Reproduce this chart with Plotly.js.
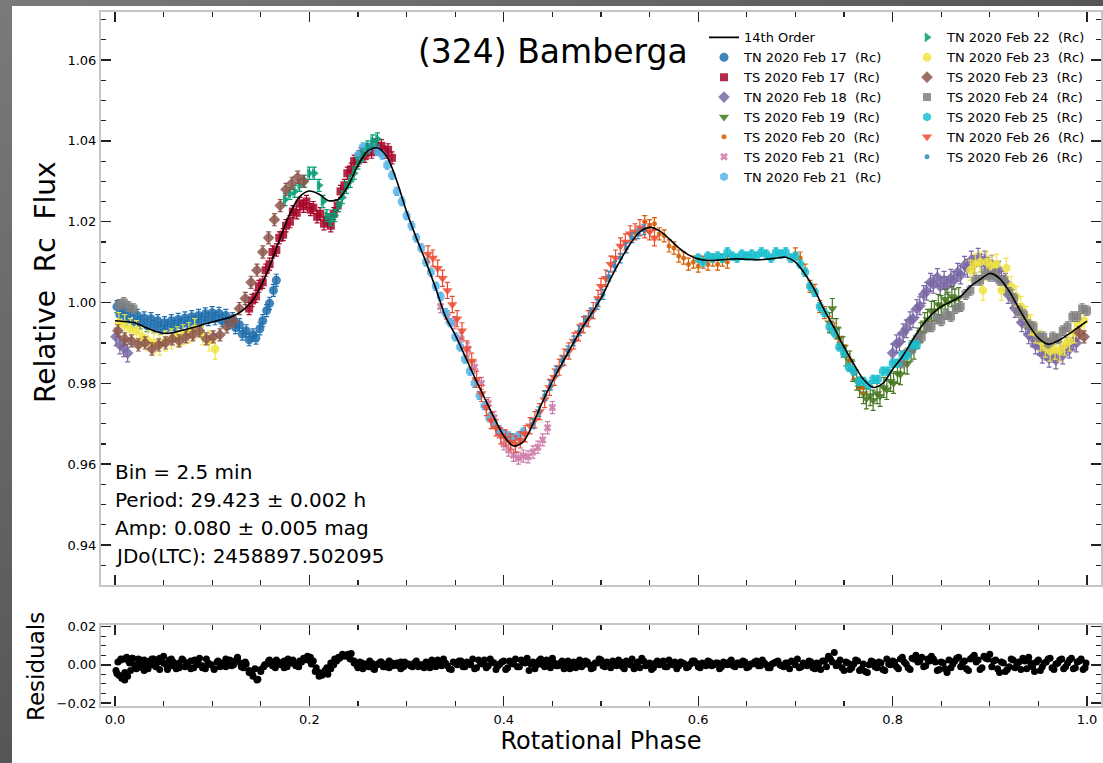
<!DOCTYPE html>
<html>
<head>
<meta charset="utf-8">
<script src="https://cdn.plot.ly/plotly-3.0.1.min.js"></script>
<style>
html,body{margin:0;padding:0;}
body{width:1103px;height:763px;overflow:hidden;position:relative;
 background:linear-gradient(to bottom right,#7a7a7a 0%,#565656 50%,#303030 100%);}
#plot{position:absolute;left:12px;top:6px;width:1091px;height:757px;background:#fff;}
</style>
</head>
<body>
<div id="plot"></div>
<script>
// ---------- fit curve (14th order Fourier) ----------
const fitPhase = [0.00,0.01,0.02,0.03,0.04,0.05,0.06,0.07,0.08,0.09,0.10,0.11,0.12,0.13,0.14,0.15,0.16,0.17,0.18,0.19,0.20,0.21,0.22,0.23,0.24,0.25,0.26,0.27,0.28,0.29,0.30,0.31,0.32,0.33,0.34,0.35,0.36,0.37,0.38,0.39,0.40,0.41,0.42,0.43,0.44,0.45,0.46,0.47,0.48,0.49,0.50,0.51,0.52,0.53,0.54,0.55,0.56,0.57,0.58,0.59,0.60,0.61,0.62,0.63,0.64,0.65,0.66,0.67,0.68,0.69,0.70,0.71,0.72,0.73,0.74,0.75,0.76,0.77,0.78,0.79,0.80,0.81,0.82,0.83,0.84,0.85,0.86,0.87,0.88,0.89,0.90,0.91,0.92,0.93,0.94,0.95,0.96,0.97,0.98,0.99,1.00];
const fitFlux = [0.9955,0.9953,0.9950,0.9940,0.9930,0.9924,0.9926,0.9932,0.9938,0.9945,0.9952,0.9958,0.9965,0.9978,1.0000,1.0040,1.0095,1.0160,1.0220,1.0262,1.0276,1.0268,1.0252,1.0256,1.0290,1.0340,1.0375,1.0383,1.0360,1.0300,1.0225,1.0160,1.0100,1.0035,0.9965,0.9920,0.9868,0.9815,0.9765,0.9715,0.9670,0.9645,0.9655,0.9700,0.9755,0.9805,0.9850,0.9893,0.9935,0.9972,1.0010,1.0060,1.0105,1.0145,1.0175,1.0186,1.0178,1.0158,1.0135,1.0118,1.0108,1.0104,1.0105,1.0107,1.0108,1.0107,1.0106,1.0107,1.0110,1.0112,1.0100,1.0070,1.0030,0.9980,0.9937,0.9890,0.9848,0.9810,0.9790,0.9800,0.9835,0.9866,0.9905,0.9942,0.9970,0.9990,1.0002,1.0015,1.0040,1.0057,1.0072,1.0060,1.0028,0.9985,0.9945,0.9912,0.9897,0.9905,0.9920,0.9937,0.9954];

// ---------- observation nights ----------
const tnFeb17Phase = [0.002,0.005,0.009,0.012,0.016,0.019,0.023,0.026,0.030,0.033,0.037,0.040,0.044,0.047,0.051,0.054,0.058,0.061,0.065,0.068,0.072,0.075,0.079,0.082,0.086,0.089,0.093,0.096,0.100,0.103,0.107,0.110,0.114,0.117,0.121,0.124,0.128,0.131,0.135,0.138,0.142,0.145,0.149,0.152,0.156,0.159,0.163,0.166];
const tnFeb17Flux  = [0.9990,0.9970,0.9982,0.9958,0.9975,0.9952,0.9968,0.9950,0.9962,0.9943,0.9960,0.9940,0.9955,0.9936,0.9950,0.9938,0.9955,0.9940,0.9958,0.9945,0.9962,0.9948,0.9965,0.9952,0.9968,0.9955,0.9972,0.9958,0.9975,0.9960,0.9973,0.9955,0.9968,0.9950,0.9960,0.9938,0.9945,0.9922,0.9930,0.9908,0.9920,0.9912,0.9935,0.9955,0.9980,0.9998,1.0030,1.0055];

const tsFeb17Phase = [0.138,0.141,0.145,0.148,0.152,0.155,0.159,0.162,0.166,0.169,0.173,0.176,0.180,0.183,0.187,0.190,0.194,0.197,0.201,0.204,0.208,0.211,0.215,0.218,0.222,0.225,0.229,0.232,0.236,0.239,0.243,0.246,0.250,0.253,0.257,0.260,0.264,0.267,0.271,0.274,0.278,0.281,0.285];
const tsFeb17Flux  = [0.9985,1.0005,1.0015,1.0040,1.0050,1.0080,1.0095,1.0125,1.0130,1.0160,1.0168,1.0190,1.0200,1.0225,1.0222,1.0245,1.0238,1.0250,1.0230,1.0235,1.0212,1.0220,1.0195,1.0205,1.0190,1.0220,1.0240,1.0275,1.0290,1.0320,1.0330,1.0350,1.0352,1.0368,1.0362,1.0378,1.0372,1.0390,1.0380,1.0388,1.0372,1.0378,1.0358];

const tnFeb18Phase = [0.800,0.804,0.807,0.811,0.814,0.818,0.821,0.825,0.828,0.832,0.835,0.839,0.842,0.846,0.849,0.853,0.856,0.860,0.863,0.867,0.870,0.874,0.877,0.881,0.884,0.888,0.891,0.895,0.898,0.902,0.905,0.909,0.912,0.916,0.919,0.923,0.926,0.930,0.933,0.937,0.940,0.944,0.947,0.951,0.954,0.958,0.961,0.965,0.968,0.972,0.975,0.979,0.982,0.986,0.989,0.001,0.005,0.009,0.013];
const tnFeb18Flux  = [0.9875,0.9898,0.9902,0.9925,0.9935,0.9955,0.9960,0.9985,0.9992,1.0020,1.0028,1.0050,1.0045,1.0062,1.0040,1.0055,1.0042,1.0060,1.0055,1.0075,1.0068,1.0092,1.0085,1.0105,1.0095,1.0112,1.0098,1.0105,1.0090,1.0095,1.0075,1.0080,1.0055,1.0050,1.0020,1.0010,0.9985,0.9975,0.9950,0.9945,0.9920,0.9912,0.9895,0.9892,0.9872,0.9880,0.9862,0.9875,0.9858,0.9878,0.9870,0.9892,0.9885,0.9905,0.9900,0.9915,0.9895,0.9888,0.9875];

const tsFeb19Phase = [0.735,0.738,0.742,0.745,0.749,0.752,0.756,0.759,0.763,0.766,0.770,0.773,0.777,0.780,0.784,0.787,0.791,0.794,0.798,0.801,0.805,0.808,0.812,0.815,0.819,0.822,0.826,0.829,0.833,0.836,0.840,0.843,0.847,0.850,0.854,0.857,0.861,0.864,0.868];
const tsFeb19Flux  = [0.9950,0.9985,0.9935,0.9912,0.9890,0.9868,0.9855,0.9830,0.9808,0.9790,0.9775,0.9762,0.9770,0.9758,0.9775,0.9768,0.9790,0.9785,0.9805,0.9800,0.9825,0.9822,0.9850,0.9848,0.9880,0.9885,0.9912,0.9925,0.9950,0.9958,0.9978,0.9980,0.9995,0.9992,1.0008,1.0000,1.0015,1.0008,1.0012];

const tsFeb20Phase = [0.545,0.550,0.555,0.560,0.565,0.570,0.575,0.580,0.585,0.590,0.595,0.600,0.605,0.610,0.615,0.620,0.625,0.630,0.700,0.705,0.710,0.715,0.720,0.725,0.730,0.735,0.740,0.745,0.750,0.755,0.760,0.765,0.770];
const tsFeb20Flux  = [1.0200,1.0190,1.0195,1.0170,1.0165,1.0140,1.0135,1.0115,1.0110,1.0095,1.0100,1.0090,1.0100,1.0095,1.0105,1.0095,1.0105,1.0100,1.0120,1.0110,1.0080,1.0040,1.0030,0.9990,0.9975,0.9950,0.9935,0.9900,0.9880,0.9850,0.9825,0.9800,0.9790];

const tsFeb21Phase = [0.335,0.342,0.349,0.356,0.363,0.370,0.377,0.384,0.390,0.395,0.400,0.405,0.410,0.415,0.420,0.425,0.430,0.435,0.440,0.445,0.450];
const tsFeb21Flux  = [0.9990,0.9965,0.9950,0.9910,0.9885,0.9840,0.9800,0.9750,0.9715,0.9680,0.9650,0.9635,0.9622,0.9615,0.9620,0.9618,0.9630,0.9642,0.9660,0.9690,0.9740];

const tnFeb21Phase = [0.250,0.255,0.260,0.265,0.270,0.275,0.280,0.285,0.290,0.295,0.300,0.305,0.310,0.315,0.320,0.325,0.330,0.335,0.340,0.345,0.350,0.355,0.360,0.365,0.370,0.375,0.380,0.385,0.390,0.395,0.400,0.405,0.410,0.415,0.420];
const tnFeb21Flux  = [1.0365,1.0385,1.0380,1.0390,1.0375,1.0365,1.0340,1.0315,1.0275,1.0250,1.0215,1.0190,1.0160,1.0135,1.0100,1.0075,1.0040,1.0015,0.9975,0.9950,0.9915,0.9890,0.9860,0.9830,0.9800,0.9770,0.9745,0.9715,0.9700,0.9685,0.9675,0.9670,0.9665,0.9670,0.9680];

const tnFeb22Phase = [0.175,0.180,0.185,0.190,0.195,0.200,0.205,0.210,0.214,0.218,0.222,0.226,0.230,0.234,0.238,0.242,0.246,0.250,0.255,0.260,0.265,0.270];
const tnFeb22Flux  = [1.0255,1.0270,1.0275,1.0290,1.0300,1.0320,1.0320,1.0290,1.0250,1.0215,1.0205,1.0215,1.0240,1.0260,1.0285,1.0300,1.0320,1.0345,1.0365,1.0385,1.0400,1.0405];

const tnFeb23Phase = [0.880,0.885,0.890,0.893,0.897,0.902,0.907,0.912,0.917,0.922,0.927,0.932,0.937,0.942,0.947,0.952,0.957,0.962,0.967,0.972,0.977,0.982,0.987,0.992,0.997,0.004,0.010,0.016,0.022,0.028,0.034,0.040,0.046,0.052,0.058,0.064,0.070,0.076,0.082,0.090,0.097,0.103];
const tnFeb23Flux  = [1.0080,1.0095,1.0100,1.0030,1.0100,1.0090,1.0095,1.0030,1.0085,1.0040,1.0015,0.9990,0.9965,0.9945,0.9925,0.9905,0.9890,0.9880,0.9885,0.9880,0.9895,0.9905,0.9925,0.9945,0.9955,0.9950,0.9945,0.9935,0.9930,0.9915,0.9905,0.9900,0.9895,0.9905,0.9910,0.9915,0.9920,0.9925,0.9935,0.9920,0.9905,0.9885];

const tsFeb23Phase = [0.992,0.997,0.003,0.010,0.017,0.024,0.031,0.038,0.045,0.052,0.059,0.066,0.073,0.080,0.087,0.094,0.101,0.108,0.115,0.122,0.128,0.134,0.140,0.146,0.152,0.158,0.164,0.170,0.176,0.182,0.188,0.194];
const tsFeb23Flux  = [0.9925,0.9915,0.9930,0.9910,0.9905,0.9895,0.9900,0.9885,0.9895,0.9900,0.9910,0.9905,0.9915,0.9920,0.9930,0.9910,0.9915,0.9920,0.9940,0.9955,0.9985,1.0010,1.0050,1.0080,1.0125,1.0160,1.0205,1.0240,1.0280,1.0295,1.0310,1.0300];

const tsFeb24Phase = [0.810,0.815,0.820,0.825,0.830,0.835,0.840,0.845,0.850,0.855,0.860,0.865,0.870,0.875,0.880,0.885,0.890,0.895,0.900,0.905,0.910,0.915,0.920,0.925,0.930,0.935,0.940,0.945,0.950,0.955,0.960,0.965,0.970,0.975,0.980,0.985,0.990,0.995,1.000,0.004,0.009,0.014,0.019];
const tsFeb24Flux  = [0.9850,0.9875,0.9885,0.9910,0.9915,0.9940,0.9940,0.9960,0.9955,0.9970,0.9965,0.9985,0.9990,1.0020,1.0030,1.0055,1.0055,1.0070,1.0065,1.0070,1.0055,1.0055,1.0025,1.0010,0.9980,0.9970,0.9945,0.9940,0.9915,0.9915,0.9900,0.9915,0.9910,0.9930,0.9940,0.9965,0.9965,0.9985,0.9980,0.9995,1.0000,0.9990,0.9985];

const tsFeb25Phase = [0.600,0.605,0.610,0.615,0.620,0.625,0.630,0.635,0.640,0.645,0.650,0.655,0.660,0.665,0.670,0.675,0.680,0.685,0.690,0.695,0.700,0.705,0.710,0.715,0.720,0.725,0.730,0.735,0.740,0.745,0.750,0.755,0.760,0.765,0.770,0.775,0.780,0.785,0.790,0.795,0.800,0.805,0.810,0.815,0.820,0.825];
const tsFeb25Flux  = [1.0110,1.0100,1.0115,1.0110,1.0115,1.0110,1.0125,1.0115,1.0110,1.0120,1.0115,1.0120,1.0115,1.0125,1.0120,1.0110,1.0125,1.0120,1.0125,1.0110,1.0115,1.0095,1.0075,1.0040,1.0025,0.9990,0.9975,0.9940,0.9925,0.9890,0.9875,0.9840,0.9830,0.9805,0.9805,0.9795,0.9810,0.9810,0.9830,0.9830,0.9850,0.9850,0.9870,0.9870,0.9895,0.9895];

const tnFeb26Phase = [0.322,0.327,0.332,0.337,0.342,0.347,0.352,0.357,0.362,0.367,0.372,0.377,0.382,0.387,0.392,0.397,0.402,0.407,0.412,0.417,0.422,0.427,0.432,0.437,0.442,0.447,0.452,0.457,0.462,0.467,0.472,0.477,0.482,0.487,0.492,0.497,0.500,0.505,0.510,0.515,0.520,0.525,0.530,0.535,0.540,0.545,0.550,0.555];
const tnFeb26Flux  = [1.0120,1.0110,1.0085,1.0060,1.0030,0.9995,0.9960,0.9930,0.9885,0.9855,0.9810,0.9775,0.9740,0.9708,0.9690,0.9670,0.9665,0.9655,0.9650,0.9660,0.9675,0.9695,0.9710,0.9730,0.9760,0.9790,0.9815,0.9840,0.9865,0.9880,0.9905,0.9925,0.9945,0.9960,0.9980,1.0010,1.0040,1.0060,1.0095,1.0110,1.0140,1.0150,1.0170,1.0175,1.0185,1.0180,1.0175,1.0160];

const tsFeb26Phase = [0.430,0.436,0.442,0.448,0.454,0.460,0.466,0.472,0.478,0.484,0.490,0.496,0.502,0.508,0.514,0.520,0.526,0.532,0.538,0.544];
const tsFeb26Flux  = [0.9700,0.9730,0.9770,0.9795,0.9830,0.9855,0.9880,0.9905,0.9930,0.9955,0.9975,0.9995,1.0020,1.0065,1.0090,1.0110,1.0135,1.0160,1.0170,1.0180];

// per-night typical 1-sigma error
const nightErr = [0.0015,0.0015,0.0022,0.0025,0.0015,0.0015,0.0010,0.0015,0.0025,0.0015,0.0012,0.0010,0.0020,0.0012];

// ---------- residuals ----------
const resPhase = [0.001,0.003,0.004,0.006,0.007,0.009,0.010,0.012,0.013,0.015,0.016,0.018,0.020,0.022,0.024,0.026,0.028,0.030,0.032,0.034,0.036,0.038,0.040,0.042,0.044,0.046,0.048,0.050,0.052,0.054,0.056,0.058,0.060,0.063,0.066,0.069,0.072,0.075,0.078,0.081,0.084,0.087,0.090,0.093,0.096,0.099,0.102,0.105,0.108,0.111,0.114,0.117,0.120,0.123,0.126,0.129,0.132,0.135,0.138,0.141,0.144,0.147,0.150,0.153,0.156,0.159,0.162,0.165,0.168,0.171,0.174,0.177,0.180,0.183,0.186,0.189,0.192,0.195,0.198,0.201,0.204,0.207,0.210,0.213,0.216,0.219,0.222,0.225,0.228,0.231,0.234,0.237,0.240,0.243,0.246,0.249,0.252,0.255,0.258,0.261,0.264,0.267,0.270,0.273,0.276,0.279,0.282,0.285,0.288,0.291,0.294,0.297,0.300,0.304,0.308,0.312,0.316,0.320,0.324,0.328,0.332,0.336,0.340,0.344,0.348,0.352,0.356,0.360,0.364,0.368,0.372,0.376,0.380,0.384,0.388,0.392,0.396,0.400,0.404,0.408,0.412,0.416,0.420,0.424,0.428,0.432,0.436,0.440,0.444,0.448,0.452,0.456,0.460,0.464,0.468,0.472,0.476,0.480,0.484,0.488,0.492,0.496,0.500,0.504,0.508,0.512,0.516,0.520,0.524,0.528,0.532,0.536,0.540,0.544,0.548,0.552,0.556,0.560,0.564,0.568,0.572,0.576,0.580,0.584,0.588,0.592,0.596,0.600,0.604,0.608,0.612,0.616,0.620,0.624,0.628,0.632,0.636,0.640,0.644,0.648,0.652,0.656,0.660,0.664,0.668,0.672,0.676,0.680,0.684,0.688,0.692,0.696,0.700,0.704,0.708,0.712,0.716,0.720,0.724,0.728,0.732,0.736,0.740,0.744,0.748,0.752,0.756,0.760,0.764,0.768,0.772,0.776,0.780,0.784,0.788,0.792,0.796,0.800,0.804,0.808,0.812,0.816,0.820,0.824,0.828,0.832,0.836,0.840,0.844,0.848,0.852,0.856,0.860,0.864,0.868,0.872,0.876,0.880,0.884,0.888,0.892,0.896,0.900,0.904,0.908,0.912,0.916,0.920,0.924,0.928,0.932,0.936,0.940,0.944,0.948,0.952,0.956,0.960,0.964,0.968,0.972,0.976,0.980,0.984,0.988,0.992,0.996,0.999];
const resValue = [-0.0030,0.0015,-0.0055,0.0025,-0.0070,0.0030,-0.0040,0.0040,-0.0060,0.0010,-0.0030,0.0035,0.0000,-0.0020,0.0030,0.0010,-0.0015,0.0025,0.0005,-0.0020,0.0020,0.0000,0.0030,-0.0010,0.0015,-0.0025,0.0020,0.0045,0.0005,-0.0015,0.0025,-0.0005,0.0015,-0.0020,0.0010,0.0030,-0.0010,0.0005,0.0020,-0.0015,0.0000,0.0035,-0.0005,-0.0020,0.0010,0.0000,-0.0025,0.0015,-0.0010,0.0005,0.0030,0.0015,-0.0005,0.0020,0.0040,0.0010,-0.0015,0.0005,-0.0030,-0.0045,-0.0020,-0.0075,-0.0035,-0.0010,0.0005,0.0025,0.0010,-0.0015,0.0015,0.0000,0.0020,-0.0010,0.0010,0.0025,0.0005,-0.0010,0.0015,0.0030,0.0045,0.0040,0.0020,-0.0015,-0.0040,-0.0055,-0.0030,-0.0050,-0.0020,0.0000,0.0020,0.0035,0.0045,0.0050,0.0055,0.0060,0.0010,-0.0005,0.0015,-0.0020,0.0005,-0.0010,0.0010,-0.0025,0.0000,0.0015,-0.0010,0.0005,-0.0015,0.0010,0.0000,-0.0005,0.0015,-0.0010,0.0005,-0.0005,0.0010,-0.0010,0.0000,0.0015,-0.0015,0.0005,0.0025,-0.0005,0.0010,-0.0020,0.0015,0.0000,0.0020,-0.0010,0.0005,0.0030,-0.0015,0.0010,0.0025,-0.0005,0.0015,-0.0025,0.0005,0.0020,-0.0015,0.0010,0.0030,-0.0010,0.0015,0.0035,0.0005,-0.0020,0.0020,0.0000,0.0025,-0.0015,0.0010,-0.0005,0.0020,0.0000,-0.0020,0.0015,0.0005,-0.0010,0.0020,0.0000,-0.0015,0.0010,0.0025,-0.0010,0.0005,0.0020,-0.0005,0.0015,-0.0020,0.0010,0.0030,0.0000,-0.0015,0.0020,0.0005,-0.0025,0.0010,0.0000,0.0020,-0.0010,0.0005,0.0015,-0.0005,0.0010,-0.0015,0.0005,0.0020,-0.0010,0.0010,-0.0005,0.0015,0.0000,0.0010,-0.0010,0.0005,0.0015,-0.0005,0.0010,0.0000,0.0015,-0.0010,0.0005,0.0020,-0.0005,0.0010,-0.0015,0.0005,0.0015,0.0000,-0.0010,0.0010,0.0020,0.0000,-0.0015,0.0010,-0.0005,0.0015,-0.0020,0.0005,0.0020,-0.0010,0.0030,0.0065,0.0010,-0.0015,0.0015,-0.0025,0.0005,0.0020,-0.0020,-0.0035,0.0000,0.0015,-0.0015,0.0010,-0.0030,0.0005,0.0020,-0.0010,0.0030,0.0015,-0.0015,0.0035,0.0050,0.0020,-0.0010,0.0030,0.0045,0.0015,-0.0025,0.0010,-0.0040,-0.0015,0.0020,0.0040,0.0010,-0.0020,0.0030,0.0050,0.0025,-0.0015,0.0035,0.0055,0.0020,-0.0020,0.0015,-0.0035,-0.0010,0.0025,0.0005,-0.0025,0.0020,0.0040,-0.0010,0.0015,-0.0030,0.0010,0.0030,-0.0015,0.0005,0.0025,-0.0020,0.0010,0.0035,-0.0015,0.0020,-0.0025,0.0010];
const resPhaseB = [0.002,0.006,0.010,0.014,0.018,0.022,0.026,0.030,0.034,0.038,0.042,0.046,0.050,0.054,0.058,0.062,0.066,0.070,0.074,0.078,0.082,0.086,0.090,0.094,0.098,0.102,0.106,0.110,0.114,0.118,0.122,0.126,0.130,0.134,0.138,0.142,0.146,0.150,0.154,0.158,0.162,0.166,0.170,0.174,0.178,0.182,0.186,0.190,0.194,0.198,0.202,0.206,0.210,0.214,0.218,0.222,0.226,0.230,0.234,0.238,0.242,0.246,0.250,0.254,0.258,0.262,0.266,0.270,0.274,0.278,0.282,0.286,0.290,0.294,0.298,0.302,0.306,0.310,0.314,0.318,0.322,0.326,0.330,0.334,0.338,0.342,0.346,0.350,0.354,0.358,0.362,0.366,0.370,0.374,0.378,0.382,0.386,0.390,0.394,0.398,0.402,0.406,0.410,0.414,0.418,0.422,0.426,0.430,0.434,0.438,0.442,0.446,0.450,0.454,0.458,0.462,0.466,0.470,0.474,0.478,0.482,0.486,0.490,0.494,0.498,0.502,0.506,0.510,0.514,0.518,0.522,0.526,0.530,0.534,0.538,0.542,0.546,0.550,0.554,0.558,0.562,0.566,0.570,0.574,0.578,0.582,0.586,0.590,0.594,0.598,0.602,0.606,0.610,0.614,0.618,0.622,0.626,0.630,0.634,0.638,0.642,0.646,0.650,0.654,0.658,0.662,0.666,0.670,0.674,0.678,0.682,0.686,0.690,0.694,0.698,0.702,0.706,0.710,0.714,0.718,0.722,0.726,0.730,0.734,0.738,0.742,0.746,0.750,0.754,0.758,0.762,0.766,0.770,0.774,0.778,0.782,0.786,0.790,0.794,0.798,0.802,0.806,0.810,0.814,0.818,0.822,0.826,0.830,0.834,0.838,0.842,0.846,0.850,0.854,0.858,0.862,0.866,0.870,0.874,0.878,0.882,0.886,0.890,0.894,0.898,0.902,0.906,0.910,0.914,0.918,0.922,0.926,0.930,0.934,0.938,0.942,0.946,0.950,0.954,0.958,0.962,0.966,0.970,0.974,0.978,0.982,0.986,0.990,0.994,0.998];
const resValueB = [-0.0045,0.0030,-0.0080,0.0020,0.0035,-0.0010,0.0025,-0.0030,0.0015,0.0030,-0.0005,0.0035,0.0010,-0.0025,0.0030,0.0000,-0.0015,0.0025,0.0010,-0.0020,0.0025,0.0005,-0.0015,0.0030,0.0000,-0.0020,0.0020,0.0010,-0.0010,0.0025,0.0000,0.0035,-0.0010,0.0015,-0.0040,-0.0060,-0.0080,-0.0025,0.0000,0.0020,-0.0005,0.0025,0.0005,-0.0015,0.0030,0.0010,-0.0005,0.0020,0.0035,0.0025,0.0005,-0.0035,-0.0060,-0.0045,-0.0015,0.0010,0.0030,0.0040,0.0055,0.0045,0.0030,0.0020,-0.0015,0.0010,-0.0005,0.0020,-0.0020,0.0005,0.0015,-0.0010,0.0020,-0.0005,0.0010,-0.0020,0.0015,0.0005,-0.0010,0.0020,0.0000,-0.0015,0.0010,0.0025,-0.0010,0.0005,0.0030,-0.0005,-0.0025,0.0010,0.0020,-0.0010,0.0015,0.0000,-0.0020,0.0025,0.0005,-0.0015,0.0030,0.0010,-0.0005,0.0015,-0.0025,0.0020,0.0005,-0.0010,0.0025,0.0010,-0.0030,0.0015,0.0000,0.0030,-0.0010,0.0015,0.0035,-0.0005,0.0010,-0.0020,0.0020,0.0005,-0.0015,0.0025,0.0000,0.0015,-0.0020,0.0010,0.0030,-0.0005,0.0015,-0.0015,0.0005,0.0025,-0.0010,0.0020,0.0000,-0.0020,0.0015,0.0035,-0.0005,0.0010,-0.0015,0.0020,0.0005,-0.0010,0.0025,0.0000,-0.0020,0.0015,0.0005,-0.0010,0.0020,0.0010,-0.0015,0.0005,0.0020,-0.0005,0.0010,-0.0020,0.0015,0.0000,0.0025,-0.0010,0.0010,0.0020,-0.0015,0.0005,0.0015,-0.0005,0.0025,0.0000,-0.0015,0.0010,0.0020,-0.0005,0.0010,-0.0020,0.0015,0.0030,-0.0010,0.0005,0.0020,-0.0015,0.0010,-0.0025,0.0020,0.0045,0.0015,-0.0005,0.0025,-0.0030,0.0010,-0.0015,0.0025,-0.0030,0.0005,-0.0040,0.0020,-0.0010,0.0015,-0.0025,0.0030,0.0000,0.0015,-0.0020,0.0040,0.0005,-0.0025,0.0030,0.0015,0.0040,-0.0005,0.0020,0.0030,-0.0030,0.0015,-0.0020,0.0025,0.0005,0.0035,-0.0010,0.0020,-0.0030,0.0040,0.0015,-0.0025,0.0045,0.0030,-0.0010,0.0025,-0.0040,0.0010,-0.0025,0.0030,-0.0015,0.0015,0.0035,-0.0020,0.0010,-0.0035,0.0025,-0.0010,0.0015,0.0035,-0.0025,0.0010,0.0030,-0.0010,0.0025,-0.0020,0.0015,0.0030,-0.0015];

// ---------- legend / style tables ----------
const nightNames = ['TN 2020 Feb 17','TS 2020 Feb 17','TN 2020 Feb 18','TS 2020 Feb 19','TS 2020 Feb 20','TS 2020 Feb 21','TN 2020 Feb 21','TN 2020 Feb 22','TN 2020 Feb 23','TS 2020 Feb 23','TS 2020 Feb 24','TS 2020 Feb 25','TN 2020 Feb 26','TS 2020 Feb 26'];
const filterLabel = '(Rc)';
const fitLabel = '14th Order';
const nightPhases = [tnFeb17Phase,tsFeb17Phase,tnFeb18Phase,tsFeb19Phase,tsFeb20Phase,tsFeb21Phase,tnFeb21Phase,tnFeb22Phase,tnFeb23Phase,tsFeb23Phase,tsFeb24Phase,tsFeb25Phase,tnFeb26Phase,tsFeb26Phase];
const nightFluxes = [tnFeb17Flux,tsFeb17Flux,tnFeb18Flux,tsFeb19Flux,tsFeb20Flux,tsFeb21Flux,tnFeb21Flux,tnFeb22Flux,tnFeb23Flux,tsFeb23Flux,tsFeb24Flux,tsFeb25Flux,tnFeb26Flux,tsFeb26Flux];
const colors  = ['#1f6fad','#A60628','#7A68A6','#467821','#D55E00','#CC79A7','#56B4E9','#009E73','#F0E442','#8c564b','#7f7f7f','#17becf','#ec4a2f','#348ABD'];
const symbols = ['circle','square','diamond','triangle-down','circle','x','hexagon','triangle-right','octagon','diamond','square','hexagon','triangle-down','circle'];
const sizes   = [9,8,9,9,5,7,9,9,9,9,8,9,9,5];

const traces = [];
for (let i = 0; i < nightNames.length; i++) {
  traces.push({
    type:'scatter', mode:'markers',
    x: nightPhases[i], y: nightFluxes[i],
    xaxis:'x', yaxis:'y',
    name: nightNames[i] + '\u00a0 ' + filterLabel,
    legend: i < 7 ? 'legend' : 'legend2',
    legendrank: i + 2,
    marker:{color:colors[i], symbol:symbols[i], size:sizes[i], opacity:0.85, line:{width:0}},
    error_y:{type:'constant', value:nightErr[i], color:colors[i], thickness:1.2, width:2.5}
  });
}
traces.push({
  type:'scatter', mode:'lines', x: fitPhase, y: fitFlux,
  xaxis:'x', yaxis:'y', name: fitLabel, legend:'legend', legendrank:1,
  line:{color:'#000', width:1.6, shape:'spline', smoothing:0.8}
});
traces.push({
  type:'scatter', mode:'markers', x: resPhase, y: resValue,
  xaxis:'x2', yaxis:'y2', showlegend:false,
  marker:{color:'#000', size:7}
});
traces.push({
  type:'scatter', mode:'markers', x: resPhaseB, y: resValueB,
  xaxis:'x2', yaxis:'y2', showlegend:false,
  marker:{color:'#000', size:7}
});

const tickCol = '#222';
const frameCol = '#c6c6c6';
const xCommon = {range:[-0.0144,1.0144], tick0:0, dtick:0.2, ticks:'inside', ticklen:10, tickwidth:1.4, tickcolor:tickCol,
  mirror:'ticks', showline:true, linecolor:frameCol, linewidth:2, showgrid:false, zeroline:false,
  minor:{dtick:0.05, ticks:'inside', ticklen:5, tickwidth:1.2, tickcolor:tickCol, showgrid:false}};

const layout = {
  width:1091, height:757,
  margin:{l:89, r:2, t:6, b:57},
  paper_bgcolor:'#fff', plot_bgcolor:'#fff',
  font:{family:'DejaVu Sans', color:'#000', size:13},
  showlegend:true,
  xaxis: Object.assign({}, xCommon, {domain:[0,1], anchor:'y', showticklabels:false}),
  xaxis2: Object.assign({}, xCommon, {domain:[0,1], anchor:'y2', showticklabels:true, tickformat:'.1f',
    tickfont:{size:13}, title:{text:'Rotational Phase', font:{size:24}, standoff:5}}),
  yaxis: {domain:[0.1744,1], anchor:'x', range:[0.9301,1.0719], tick0:0.94, dtick:0.02, tickformat:'.2f',
    ticks:'inside', ticklen:10, tickwidth:1.4, tickcolor:tickCol, mirror:'ticks', showline:true, linecolor:frameCol, linewidth:2,
    showgrid:false, zeroline:false, tickfont:{size:13},
    minor:{dtick:0.005, ticks:'inside', ticklen:5, tickwidth:1.2, tickcolor:tickCol, showgrid:false}},
  yaxis2: {domain:[0,0.1167], anchor:'x2', range:[-0.0216,0.0209], tick0:0, dtick:0.02, tickformat:'.2f',
    ticks:'inside', ticklen:10, tickwidth:1.4, tickcolor:tickCol, mirror:'ticks', showline:true, linecolor:frameCol, linewidth:2,
    showgrid:false, zeroline:false, tickfont:{size:13},
    minor:{dtick:0.005, ticks:'inside', ticklen:5, tickwidth:1.2, tickcolor:tickCol, showgrid:false}},
  legend: {x:0.603, xanchor:'left', y:0.985, yanchor:'top', bgcolor:'rgba(0,0,0,0)', font:{size:13}, tracegroupgap:0, traceorder:'normal'},
  legend2: {x:0.806, xanchor:'left', y:0.985, yanchor:'top', bgcolor:'rgba(0,0,0,0)', font:{size:13}, tracegroupgap:0, traceorder:'normal'},
  annotations: [
    {text:'(324) Bamberga', xref:'paper', yref:'paper', x:0.452, y:0.9424, xanchor:'center', yanchor:'middle', showarrow:false, font:{size:33}},
    {text:'Relative\u00a0 Rc\u00a0 Flux', xref:'paper', yref:'paper', x:-0.055, y:0.611, xanchor:'center', yanchor:'middle', textangle:-90, showarrow:false, font:{size:28}},
    {text:'Residuals', xref:'paper', yref:'paper', x:-0.065, y:0.0562, xanchor:'center', yanchor:'middle', textangle:-90, showarrow:false, font:{size:23}},
    {text:'Bin = 2.5 min', xref:'paper', yref:'paper', x:0.012, y:0.3372, xanchor:'left', yanchor:'middle', showarrow:false, font:{size:20}},
    {text:'Period: 29.423 \u00b1 0.002 h', xref:'paper', yref:'paper', x:0.012, y:0.2968, xanchor:'left', yanchor:'middle', showarrow:false, font:{size:20}},
    {text:'Amp: 0.080 \u00b1 0.005 mag', xref:'paper', yref:'paper', x:0.012, y:0.2565, xanchor:'left', yanchor:'middle', showarrow:false, font:{size:20}},
    {text:'JDo(LTC): 2458897.502095', xref:'paper', yref:'paper', x:0.012, y:0.2161, xanchor:'left', yanchor:'middle', showarrow:false, font:{size:20}}
  ]
};

Plotly.newPlot('plot', traces, layout, {staticPlot:true, displayModeBar:false});
</script>
</body>
</html>
